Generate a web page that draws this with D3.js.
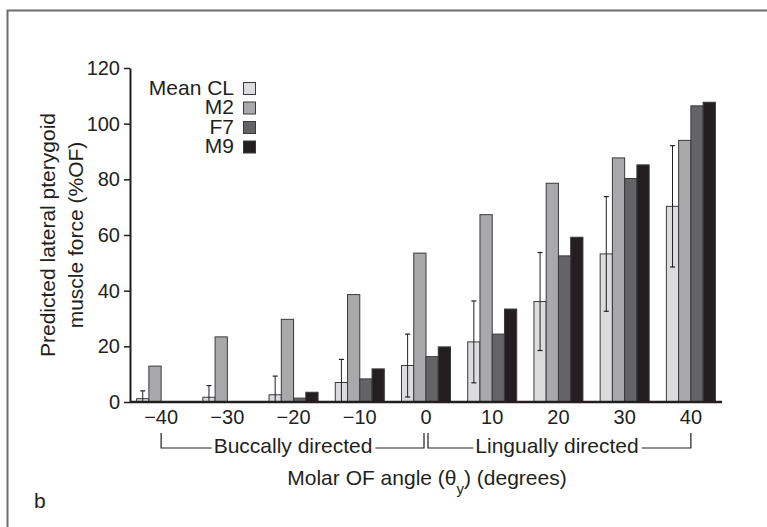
<!DOCTYPE html>
<html>
<head>
<meta charset="utf-8">
<script src="https://cdn.jsdelivr.net/npm/d3@7"></script>
<style>
  body { margin: 0; background: #fff; }
  svg { display: block; }
  text { font-family: "Liberation Sans", Arial, sans-serif; fill: #231f20; }
</style>
</head>
<body>
<div id="chart"></div>
<script>
// data
const angles = [-40, -30, -20, -10, 0, 10, 20, 30, 40];
const meanCL = [1.2, 1.7, 2.6, 7.0, 13.1, 21.6, 36.1, 53.2, 70.3];
const meanCLsd = [2.8, 4.2, 6.7, 8.3, 11.3, 14.7, 17.6, 20.6, 21.8];
const m2 = [12.9, 23.4, 29.7, 38.6, 53.5, 67.3, 78.6, 87.7, 94.0];
const f7 = [0, 0, 1.4, 8.3, 16.3, 24.4, 52.5, 80.3, 106.4];
const m9 = [0, 0, 3.5, 11.9, 19.8, 33.4, 59.2, 85.2, 107.7];
const seriesNames = ["Mean CL", "M2", "F7", "M9"];
const seriesColors = ["#dcdcde", "#a9a9ac", "#646466", "#231f20"];
const yTicks = [0, 20, 40, 60, 80, 100, 120];

const W = 767, H = 527;
const FS = "21px";
const svg = d3.select("#chart").append("svg")
    .attr("width", W)
    .attr("height", H);

// outer frame
svg.append("rect")
    .attr("x", 7.5).attr("y", 10.5)
    .attr("width", 900).attr("height", 700)
    .attr("fill", "none")
    .attr("stroke", "#6d6d6d")
    .attr("stroke-width", 2);

const pLeft = 130, pRight = 722, pTop = 68, pBottom = 402;

const x = d3.scaleBand().domain(angles).range([pLeft, pRight])
    .paddingInner(0.26).paddingOuter(0.1);
const xs = d3.scaleBand().domain(seriesNames).range([0, x.bandwidth()]);
const y = d3.scaleLinear().domain([0, 120]).range([pBottom, pTop]);

const rows = angles.map((a, i) => ({
    angle: a,
    values: [meanCL[i], m2[i], f7[i], m9[i]]
}));

// bars
const g = svg.append("g");
rows.forEach(function(r) {
    r.values.forEach(function(v, j) {
        if (v <= 0) return;
        g.append("rect")
            .attr("x", x(r.angle) + xs(seriesNames[j]))
            .attr("y", y(v))
            .attr("width", xs.bandwidth())
            .attr("height", y(0) - y(v))
            .attr("fill", seriesColors[j])
            .attr("stroke", "#3a3a3a")
            .attr("stroke-width", 1);
    });
});

// error bars on Mean CL
angles.forEach(function(a, i) {
    const cx = x(a) + xs("Mean CL") + xs.bandwidth() / 2;
    const hi = y(meanCL[i] + meanCLsd[i]);
    const lo = y(Math.max(0, meanCL[i] - meanCLsd[i]));
    g.append("line").attr("x1", cx).attr("x2", cx).attr("y1", hi).attr("y2", lo)
        .attr("stroke", "#231f20").attr("stroke-width", 1);
    g.append("line").attr("x1", cx - 2.5).attr("x2", cx + 2.5).attr("y1", hi).attr("y2", hi)
        .attr("stroke", "#231f20").attr("stroke-width", 1.2);
    if (meanCL[i] - meanCLsd[i] > 0) {
        g.append("line").attr("x1", cx - 2.5).attr("x2", cx + 2.5).attr("y1", lo).attr("y2", lo)
            .attr("stroke", "#231f20").attr("stroke-width", 1.2);
    }
});

// y axis
const yAxis = svg.append("g")
    .attr("transform", "translate(" + pLeft + ",0)")
    .call(d3.axisLeft(y).tickValues(yTicks).tickSize(6).tickPadding(4).tickSizeOuter(0));
yAxis.select(".domain").attr("stroke", "#231f20").attr("stroke-width", 2);
yAxis.selectAll(".tick line").attr("stroke", "#231f20").attr("stroke-width", 1.5);
yAxis.selectAll(".tick text").style("font-size", "20px").attr("fill", "#231f20")
    .style("font-family", "Liberation Sans, Arial, sans-serif");

// x axis baseline + labels
const xAxis = svg.append("g")
    .attr("transform", "translate(0," + pBottom + ")")
    .call(d3.axisBottom(x).tickSize(0).tickPadding(8)
        .tickFormat(d => d < 0 ? "\u2212" + Math.abs(d) : d));
xAxis.select(".domain").attr("stroke", "#231f20").attr("stroke-width", 2.5)
    .attr("d", "M" + pLeft + ",0H" + pRight);
xAxis.selectAll(".tick text").style("font-size", "20px").attr("fill", "#231f20")
    .style("font-family", "Liberation Sans, Arial, sans-serif");

// direction brackets
const bY = 448, bTop = 433;
const c = a => x(a) + x.bandwidth() / 2;
function bracket(x0, x1, label, tx) {
    const t = svg.append("text").attr("x", tx).attr("y", bY + 5)
        .attr("text-anchor", "middle").style("font-size", FS).text(label);
    const bb = t.node().getBBox();
    svg.append("path")
        .attr("d", "M" + x0 + "," + bTop + "V" + bY + "H" + (bb.x - 2) +
            "M" + (bb.x + bb.width + 3) + "," + bY + "H" + x1 + "V" + bTop)
        .attr("fill", "none").attr("stroke", "#231f20").attr("stroke-width", 1.2);
}
bracket(c(-40), c(0) - 2, "Buccally directed", 293);
bracket(c(0) + 2, c(40), "Lingually directed", 557);

// x title
const xt = svg.append("text").attr("x", 427).attr("y", 485)
    .attr("text-anchor", "middle").style("font-size", FS);
xt.append("tspan").text("Molar OF angle (\u03b8");
xt.append("tspan").attr("baseline-shift", "sub").style("font-size", "15px").text("y");
xt.append("tspan").text(") (degrees)");

// y title
const yt = svg.append("text")
    .attr("transform", "translate(55,235) rotate(-90)")
    .attr("text-anchor", "middle").style("font-size", FS);
yt.append("tspan").attr("x", 0).attr("dy", 0).text("Predicted lateral pterygoid");
yt.append("tspan").attr("x", 0).attr("dy", 28).text("muscle force (%OF)");

// legend
const leg = svg.append("g");
seriesNames.forEach(function(s, i) {
    const ly = 82 + i * 19.5;
    leg.append("rect").attr("x", 243.5).attr("y", ly + 0.5).attr("width", 12).attr("height", 12)
        .attr("fill", seriesColors[i]).attr("stroke", "#3a3a3a").attr("stroke-width", 1);
    leg.append("text").attr("x", 234).attr("y", ly + 12.5)
        .attr("text-anchor", "end").style("font-size", FS).text(s);
});

// panel letter
svg.append("text").attr("x", 34).attr("y", 508).style("font-size", FS).text("b");
</script>
</body>
</html>
